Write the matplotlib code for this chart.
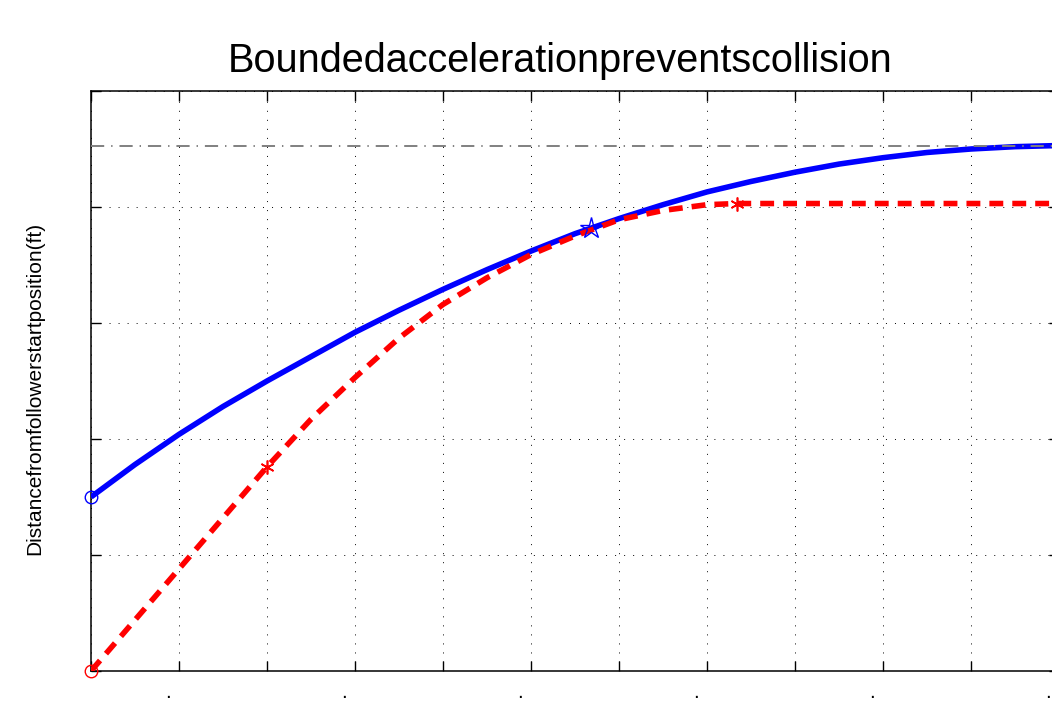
import numpy as np
import matplotlib.pyplot as plt
from matplotlib.transforms import ScaledTranslation

plt.rcParams['font.family'] = ['Liberation Sans', 'DejaVu Sans']
plt.rcParams['lines.scale_dashes'] = False

# leader (blue) position, every 0.5 s
t_leader = np.arange(0, 11.5, 0.5)
d_leader = [1.50, 1.78, 2.04, 2.28, 2.50, 2.71, 2.92, 3.11, 3.29, 3.46, 3.62, 3.77,
            3.90, 4.02, 4.13, 4.22, 4.30, 4.37, 4.425, 4.47, 4.50, 4.52, 4.53]

# follower (red) position
t_follow = [0, 0.5, 1, 1.5, 2, 2.5, 3, 3.5, 4, 4.5, 5, 5.5, 6, 6.5, 7, 7.34, 8, 9, 10, 11]
d_follow = [0, 0.44, 0.88, 1.32, 1.76, 2.17, 2.53, 2.87, 3.16, 3.39, 3.59, 3.75,
            3.89, 3.97, 4.02, 4.03, 4.03, 4.03, 4.03, 4.03]

# phase changes of the follower and the meeting point
t_switch = [2.0, 7.34]
d_switch = [1.76, 4.03]
t_meet, d_meet = 5.68, 3.82
d_limit = 4.526

title = 'Boundedaccelerationpreventscollision'
ylab = 'Distancefromfollowerstartposition(ft)'
xlabels = ['', '.', '', '.', '', '.', '', '.', '', '.', '', '.']

fig = plt.figure(figsize=(10.52, 7.03), dpi=100)
ax = fig.add_axes([91 / 1052, 32 / 703, 968 / 1052, 580 / 703])

ax.plot(t_leader, d_leader, color='b', lw=4, solid_capstyle='butt',
        solid_joinstyle='round', zorder=3)
ax.plot(t_follow, d_follow, color='r', lw=4, linestyle=(0, (10, 6.5)),
        dash_capstyle='butt', dash_joinstyle='round', zorder=4)
ax.axhline(d_limit, color='0.5', lw=1.4, linestyle=(0, (9.5, 5, 1, 5)), zorder=5)

# markers
ax.plot(0, d_leader[0], 'o', mfc='none', mec='b', ms=9, mew=1, clip_on=False, zorder=6)
ax.plot(0, d_follow[0], 'o', mfc='none', mec='r', ms=9, mew=1, clip_on=False, zorder=6)
ax.plot(t_meet, d_meet, '*', mfc='none', mec='b', ms=16, mew=1, zorder=6)
ax.plot(t_switch, d_switch, marker=(6, 2, 0), ls='none', color='r', ms=10, mew=1.2, zorder=6)

ax.set_xlim(0, 11)
ax.set_ylim(0, 5)
ax.set_xticks(range(12))
ax.set_xticklabels(xlabels)
ax.set_yticks(range(6))
ax.set_yticklabels([])
ax.tick_params(direction='in', length=7, width=1, top=True, right=True,
               labelsize=15, pad=9)
for lab in ax.get_xticklabels():
    lab.set_transform(lab.get_transform() + ScaledTranslation(-0.11, 0, fig.dpi_scale_trans))
for sp in ax.spines.values():
    sp.set_linewidth(1.1)
ax.grid(True, color='k', lw=0.7, linestyle=(0, (0.7, 5.8)))

fig.text(560 / 1052, 1 - 72 / 703, title, ha='center', va='baseline', fontsize=28.5)
fig.text(35 / 1052, 1 - 388 / 703, ylab, rotation=90, ha='center', va='center', fontsize=15)

fig.savefig('out.png', dpi=100)
